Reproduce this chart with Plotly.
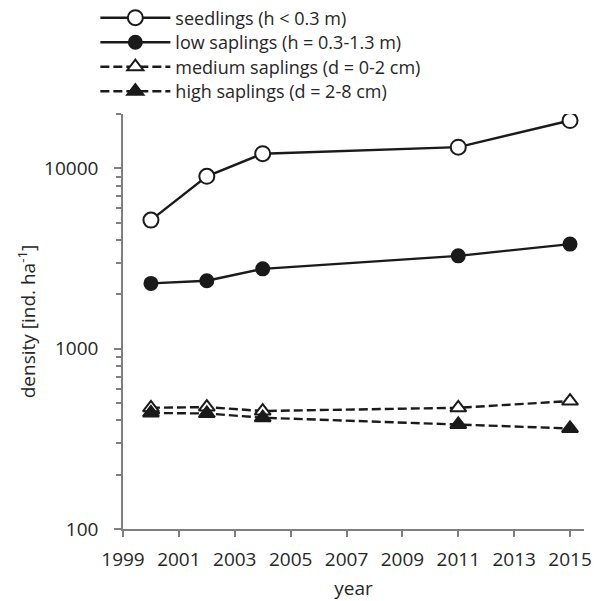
import plotly.graph_objects as go

# Survey years and stand density per regeneration class [ind. ha^-1]
years = [2000, 2002, 2004, 2011, 2015]
seedlings = [5160, 9030, 12050, 13100, 18400]
low_saplings = [2300, 2380, 2770, 3270, 3800]
medium_saplings = [470, 474, 451, 470, 512]
high_saplings = [440, 437, 414, 380, 361]

series_names = [
    "seedlings (h < 0.3 m)",
    "low saplings (h = 0.3-1.3 m)",
    "medium saplings (d = 0-2 cm)",
    "high saplings (d = 2-8 cm)",
]

x_ticks = list(range(1999, 2016, 2))
y_major = [100, 1000, 10000]
y_minor = [m * 10 ** e for e in (2, 3) for m in range(2, 10)] + [20000]

FONT = "'Open Sans', sans-serif"
FS = 19
LEGEND_FS = 18
TEXT = "#262626"
INK = "#1a1a1a"
AXIS = "#7f7f7f"

# plot area in pixels: top 114, bottom 529 -> paper coords for legend rows
PLOT_TOP, PLOT_BOTTOM = 114, 529
row_centers_px = [18, 42.5, 67, 91.5]
row_y = [(PLOT_BOTTOM - r) / (PLOT_BOTTOM - PLOT_TOP) for r in row_centers_px]

styles = [
    dict(values=seedlings, dash="solid", symbol="circle", size=15, fill="white"),
    dict(values=low_saplings, dash="solid", symbol="circle", size=13, fill=INK),
    dict(values=medium_saplings, dash="9px,4px", symbol="triangle-up", size=14, fill="white"),
    dict(values=high_saplings, dash="9px,4px", symbol="triangle-up", size=14, fill=INK),
]

legend_ids = ["legend", "legend2", "legend3", "legend4"]

fig = go.Figure()
for name, st, lid in zip(series_names, styles, legend_ids):
    fig.add_trace(go.Scatter(
        x=years, y=st["values"], name=name, mode="lines+markers",
        legend=lid,
        line=dict(color=INK, width=2.4, dash=st["dash"]),
        marker=dict(symbol=st["symbol"], size=st["size"], color=st["fill"],
                    line=dict(color=INK, width=2)),
    ))

legend_style = dict(
    x=-0.06, xanchor="left", yanchor="middle",
    bgcolor="rgba(0,0,0,0)", itemwidth=70,
    font=dict(family=FONT, size=LEGEND_FS, color=TEXT),
    itemclick=False, itemdoubleclick=False,
)

fig.update_layout(
    width=602, height=601,
    margin=dict(l=123, r=18, t=PLOT_TOP, b=601 - PLOT_BOTTOM, pad=0, autoexpand=False),
    paper_bgcolor="white", plot_bgcolor="white",
    font=dict(family=FONT, size=FS, color=TEXT),
    showlegend=True,
    xaxis=dict(
        range=[1999, 2015.5], tickmode="array", tickvals=x_ticks,
        ticks="outside", ticklen=6, tickwidth=1.5, tickcolor=AXIS,
        showline=True, linecolor=AXIS, linewidth=1.5, showgrid=False,
        zeroline=False, ticklabelstandoff=6,
        title=dict(text="year", standoff=14, font=dict(size=FS, color=TEXT)),
    ),
    yaxis=dict(
        type="log", range=[2, 4.30103], tickmode="array", tickvals=y_major,
        ticktext=[str(v) for v in y_major],
        ticks="outside", ticklen=7, tickwidth=1.5, tickcolor=AXIS,
        minor=dict(tickmode="array", tickvals=y_minor, ticks="outside",
                   ticklen=5, tickwidth=1.5, tickcolor=AXIS, showgrid=False),
        showline=True, linecolor=AXIS, linewidth=1.5, showgrid=False,
        zeroline=False, ticklabelstandoff=12,
        title=dict(text="density [ind. ha<sup>-1</sup>]", standoff=3,
                   font=dict(size=FS, color=TEXT)),
    ),
)
for lid, y in zip(legend_ids, row_y):
    fig.update_layout({lid: dict(legend_style, y=y)})

fig.write_html("out.html")
